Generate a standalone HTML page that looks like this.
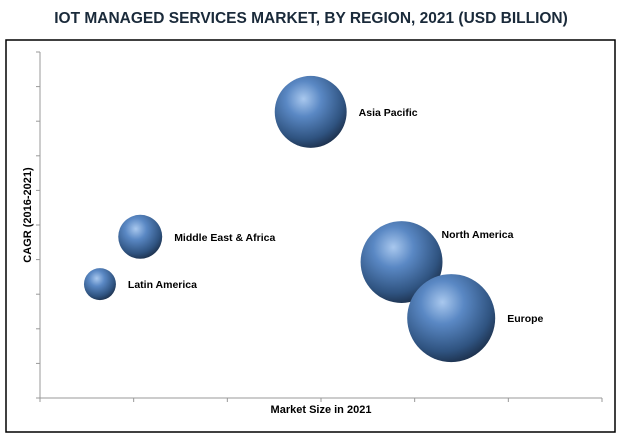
<!DOCTYPE html>
<html><head><meta charset="utf-8"><style>
body{margin:0;background:#fff;width:623px;height:440px;overflow:hidden;font-family:"Liberation Sans",sans-serif}
</style></head><body>
<svg width="623" height="440" xmlns="http://www.w3.org/2000/svg">
<defs>
<radialGradient id="g" cx="0.4" cy="0.32" r="0.7">
<stop offset="0" stop-color="#a9c8ee"/>
<stop offset="0.35" stop-color="#5a88c4"/>
<stop offset="0.8" stop-color="#2f5380"/>
<stop offset="1" stop-color="#1e3350"/>
</radialGradient>
</defs>
<text x="311" y="23" text-anchor="middle" font-size="15.5" font-weight="bold" fill="#1a2a3a">IOT MANAGED SERVICES MARKET, BY REGION, 2021 (USD BILLION)</text>
<rect x="6" y="40" width="609" height="392" fill="none" stroke="#000" stroke-width="1.5"/>
<g id="axes"></g>
<g id="bubbles"></g>
<text x="321" y="413" text-anchor="middle" font-size="11" font-weight="bold" fill="#000">Market Size in 2021</text>
<text transform="translate(31,215) rotate(-90)" text-anchor="middle" font-size="11" font-weight="bold" fill="#000">CAGR (2016-2021)</text>
</svg>
<script>
const regions=["Asia Pacific","Middle East & Africa","Latin America","North America","Europe"];
const marketSize=[2.89,1.07,0.64,3.86,4.39];
const cagr=[8.27,4.66,3.29,3.93,2.31];
const bubbleSize=[12.96,4.84,2.56,16.8,19.4];
const xTicks=[0,1,2,3,4,5,6];
const yTicks=[0,1,2,3,4,5,6,7,8,9,10];
const ns="http://www.w3.org/2000/svg";
const X0=40,X1=602,Y0=398,Y1=52;
function xs(v){return X0+v/6*(X1-X0);}
function ys(v){return Y0-v/10*(Y0-Y1);}
const maxS=Math.max(...bubbleSize);
function rs(v){return 44*Math.sqrt(v/maxS);}
const ax=document.getElementById('axes');
function ln(x1,y1,x2,y2,name){const l=document.createElementNS(ns,'line');l.setAttribute('x1',x1);l.setAttribute('y1',y1);l.setAttribute('x2',x2);l.setAttribute('y2',y2);l.setAttribute('stroke','#999');l.setAttribute('stroke-width','1');


ax.appendChild(l);}
ln(X0,Y0,X1,Y0,'x-axis');
ln(X0,Y0,X0,Y1,'y-axis');
xTicks.forEach(t=>ln(xs(t),Y0,xs(t),Y0+4,'x-tick'));
yTicks.forEach(t=>ln(X0-4,ys(t),X0,ys(t),'y-tick'));
const bg=document.getElementById('bubbles');
regions.forEach((r,i)=>{
const cx=xs(marketSize[i]),cy=ys(cagr[i]),rad=rs(bubbleSize[i]);
const c=document.createElementNS(ns,'circle');
c.setAttribute('cx',cx);c.setAttribute('cy',cy);c.setAttribute('r',rad);c.setAttribute('fill','url(#g)');


bg.appendChild(c);
const t=document.createElementNS(ns,'text');
let tx=cx+rad+12,ty=cy+4;
if(i===3){tx=cx+rad-1;ty=cy-24;}
t.setAttribute('x',tx);t.setAttribute('y',ty);t.setAttribute('font-size','10.5');t.setAttribute('font-weight','bold');
t.textContent=r;


bg.appendChild(t);
});
</script>
</body></html>
